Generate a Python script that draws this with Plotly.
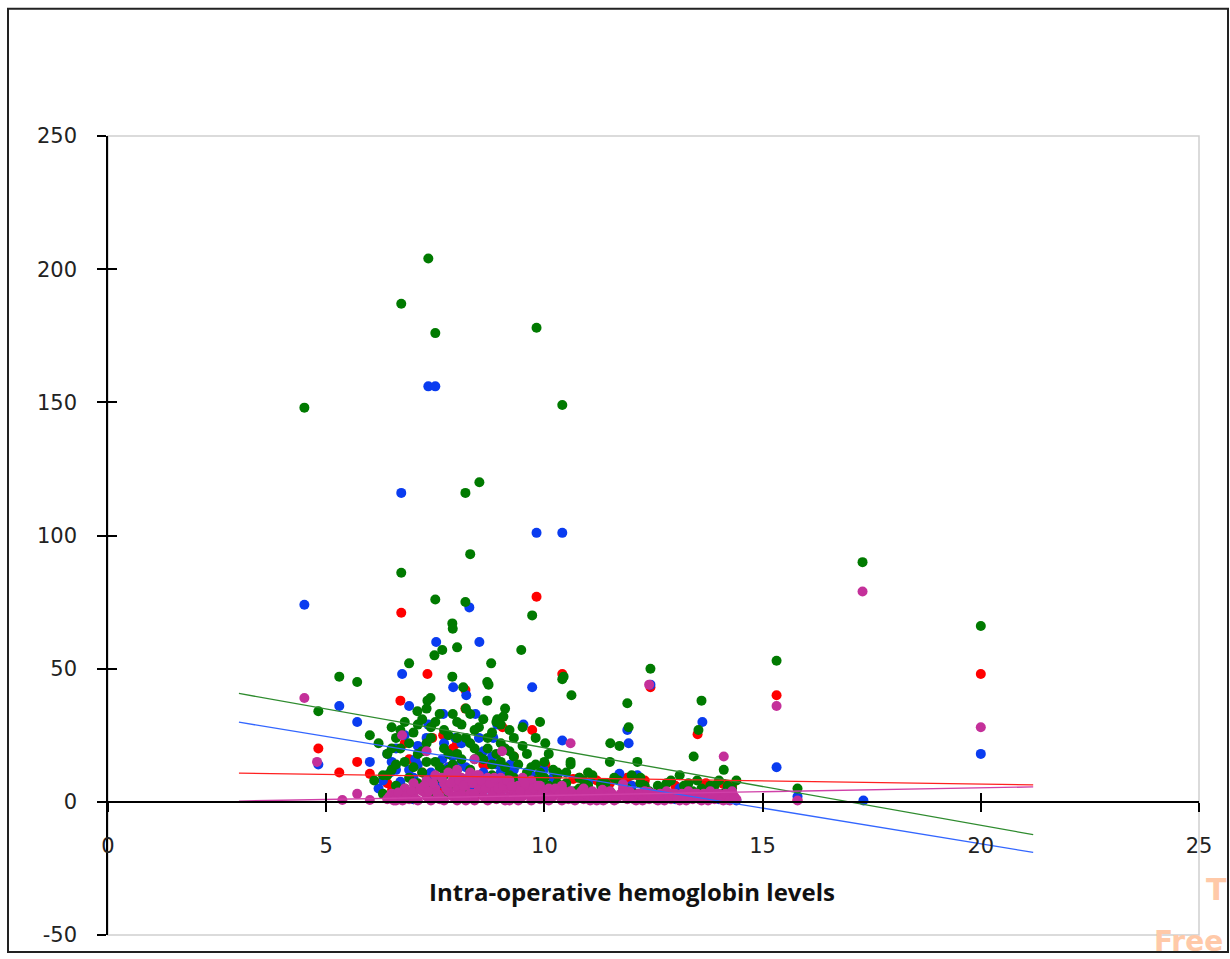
import plotly.graph_objects as go

# ---------------- data ----------------
green_x = [4.5, 7.34, 6.72, 7.5, 9.82, 10.41, 8.51, 8.19, 8.3, 6.72, 7.5, 8.19, 7.89, 7.9, 9.72,
           17.29, 20.0, 15.32, 12.43, 10.44, 10.41, 5.3, 5.71, 4.82, 13.6, 11.9, 7.48, 7.89, 8.72,
           8.78, 7.66, 9.47, 10.62, 6.9, 7.39, 13.53, 11.51, 11.72, 11.93, 15.8, 14.11, 13.42, 11.5,
           8.0, 8.14, 8.69, 8.69, 7.09, 9.1, 9.06, 8.92, 7.32, 10.02, 9.9, 12.13, 10.6,
           6.0, 6.1, 6.2, 6.3, 6.4, 6.5, 6.5, 6.6, 6.7, 6.8, 6.8, 6.9, 7.0, 7.0, 7.1, 7.2, 7.2, 7.3,
           7.4, 7.4, 7.5, 7.6, 7.6, 7.7, 7.8, 7.8, 7.9, 8.0, 8.0, 8.1, 8.2, 8.3, 8.3, 8.4, 8.5, 8.5,
           8.6, 8.7, 8.8, 8.9, 8.9, 9.0, 9.0, 9.1, 9.2, 9.3, 9.3, 9.4, 9.5, 9.6, 9.7, 9.8, 9.9, 10.0,
           10.1, 10.2, 10.3, 10.4, 10.5, 10.6, 10.7, 10.8, 10.9, 11.0, 11.1, 11.2, 11.4, 11.5, 11.7,
           11.9, 12.0, 12.1, 12.3, 12.5, 12.7, 12.9, 13.0, 13.2, 13.4, 13.5, 13.7, 13.9, 14.1, 14.3,
           14.4, 6.4, 6.6, 7.8, 8.4, 9.2, 9.6, 10.3, 10.9, 11.3, 12.2, 12.6, 13.1, 13.8,
           6.3, 6.5, 6.6, 6.7, 6.8, 6.9, 7.0, 7.1, 7.1, 7.2, 7.3, 7.3, 7.4, 7.5, 7.5, 7.6, 7.7,
           7.7, 7.8, 7.9, 7.9, 8.0, 8.0, 8.1, 8.1, 8.2, 8.2, 8.3, 8.4, 8.4, 8.5, 8.6, 8.6, 8.7,
           8.8, 8.8, 8.9, 9.0, 9.0, 9.1, 9.2, 9.3, 9.4, 9.5, 9.5, 9.6, 9.7, 9.8, 9.8, 9.9, 10.0,
           10.1, 10.2, 10.3, 10.5, 10.6, 10.8, 11.0, 11.3, 11.6, 12.2, 12.4, 12.8, 13.3, 13.6,
           14.0, 14.2]
green_y = [148, 204, 187, 176, 178, 149, 120, 116, 93, 86, 76, 75, 67, 65, 70,
           90, 66, 53, 50, 47, 46, 47, 45, 34, 38, 37, 55, 47, 44,
           52, 57, 57, 40, 52, 39, 27, 22, 21, 28, 5, 12, 17, 15,
           58, 43, 45, 38, 34, 35, 32, 31, 38, 22, 30, 15, 15,
           25, 8, 22, 3, 18, 12, 28, 6, 20, 30, 15, 9, 26, 4, 18, 31, 11, 22,
           6, 28, 15, 33, 9, 20, 25, 3, 14, 30, 18, 8, 24, 12, 33, 20, 28, 5,
           16, 24, 10, 30, 18, 6, 22, 13, 27, 9, 17, 4, 21, 11, 6, 14, 3, 9,
           18, 5, 10, 3, 7, 14, 4, 9, 2, 6, 10, 3, 7, 4, 8,
           5, 10, 3, 6, 2, 5, 8, 3, 6, 4, 8, 2, 6, 3, 5,
           8, 10, 24, 12, 16, 19, 7, 11, 8, 7, 9, 6, 10, 6,
           10, 20, 14, 27, 5, 22, 13, 29, 7, 19, 15, 35, 24, 2, 30, 13, 27,
           10, 18, 33, 6, 24, 12, 29, 16, 4, 35, 22, 9, 27, 17, 31, 8, 20,
           26, 14, 4, 29, 15, 20, 10, 24, 14, 6, 28, 18, 13, 24, 8, 11, 15,
           6, 12, 7, 11, 2, 5, 11, 6, 9, 7, 4, 7, 7, 5,
           8, 6]

blue_x = [7.34, 7.5, 6.72, 9.82, 10.41, 4.5, 8.28, 7.52, 8.51, 6.74, 7.91, 9.72, 8.21, 5.3, 5.71,
          15.32, 20.0, 17.31, 13.62, 11.93, 11.9, 10.41, 4.82, 6.9, 7.68, 8.42, 7.34, 8.92, 9.52,
          7.96, 8.83, 6.0, 6.5, 7.04, 7.66, 6.47, 7.32, 8.07, 9.22, 6.7, 9.98, 12.43, 11.72, 12.13,
          14.22, 11.28, 13.0, 15.8, 7.1, 7.8, 8.6, 9.0, 9.4, 10.0, 10.7, 11.5, 12.7, 13.4, 14.0,
          6.2, 6.9, 7.5, 8.1, 8.8, 9.6, 10.2, 10.9, 11.1, 12.3, 13.8, 14.4, 7.0, 8.4, 9.2, 6.6,
          6.3, 6.4, 6.6, 6.8, 6.8, 7.0, 7.1, 7.2, 7.3, 7.4, 7.6, 7.7, 7.8, 7.9, 8.0, 8.2, 8.3,
          8.5, 8.6, 8.7, 8.9, 9.1, 9.3, 9.5, 9.7, 9.9, 10.3, 10.6, 11.0, 11.4, 12.0, 12.6, 13.1,
          13.6, 14.2]
blue_y = [156, 156, 116, 101, 101, 74, 73, 60, 60, 48, 43, 43, 40, 36, 30,
          13, 18, 0.5, 30, 22, 27, 23, 14, 36, 33, 33, 29, 29, 29,
          24, 24, 15, 15, 16, 16, 11, 9, 14, 14, 7.5, 12, 44, 10.5, 10,
          0.7, 1, 1, 2, 21, 13, 19, 11, 8, 5, 3, 2, 1, 3, 1,
          5, 12, 8, 22, 17, 6, 9, 4, 2, 4, 2, 0.5, 1, 3, 2, 20,
          8, 18, 12, 25, 4, 9, 14, 6, 24, 11, 7, 22, 5, 17, 9, 13, 6,
          24, 11, 5, 14, 7, 12, 4, 10, 7, 6, 4, 7, 5, 6, 4, 5,
          3, 5]

red_x = [6.72, 9.82, 10.41, 7.32, 8.19, 12.43, 15.32, 20.0, 4.82, 6.7, 8.19, 9.72, 13.51, 5.3,
         5.71, 15.8, 9.04, 7.43, 7.68, 6.0, 6.51, 9.98, 9.15, 7.61, 8.69, 10.02, 11.9, 10.66,
         14.1, 7.0, 7.9, 8.5, 9.5, 10.3, 11.2, 12.0, 12.8, 13.3, 6.8, 8.9,
         6.4, 6.9, 7.2, 7.5, 7.8, 8.0, 8.3, 8.6, 9.0, 9.3, 9.6, 10.2, 10.8, 11.5, 12.3, 13.0,
         13.7, 14.3]
red_y = [71, 77, 48, 48, 42, 43, 40, 48, 20, 38, 35, 27, 25.4, 11,
         15, 0.7, 28, 24, 25, 10.5, 4.5, 14, 11.6, 4.5, 14, 14, 9, 8.6,
         6.7, 1, 20, 3, 6, 5, 8, 6, 2, 4, 22, 9,
         7, 16, 11, 7, 13, 22, 8, 14, 5, 17, 9, 7, 9, 7, 8, 6,
         7, 6]

magenta_x = [4.5, 17.29, 12.4, 15.32, 20.0, 4.79, 14.11, 10.6, 15.8, 6.74, 7.3, 8.4, 9.03, 9.5,
             5.71, 6.0, 5.37, 11.8, 11.33, 12.39,
             6.4, 6.5, 6.6, 6.7, 6.8, 6.9, 7.0, 7.0, 7.1, 7.2, 7.3, 7.3, 7.4, 7.5, 7.5, 7.6, 7.7,
             7.7, 7.8, 7.8, 7.9, 7.9, 8.0, 8.0, 8.0, 8.1, 8.1, 8.2, 8.2, 8.3, 8.3, 8.4, 8.4, 8.5,
             8.5, 8.6, 8.6, 8.7, 8.7, 8.8, 8.9, 8.9, 9.0, 9.0, 9.1, 9.1, 9.2, 9.2, 9.3, 9.4, 9.4,
             9.5, 9.6, 9.7, 9.7, 9.8, 9.9, 9.9, 10.0, 10.1, 10.1, 10.2, 10.3, 10.4, 10.4, 10.5,
             10.6, 10.7, 10.8, 10.9, 10.9, 11.0, 11.1, 11.2, 11.3, 11.4, 11.5, 11.6, 11.7, 11.8,
             11.9, 12.0, 12.1, 12.2, 12.3, 12.4, 12.5, 12.6, 12.7, 12.8, 12.9, 13.0, 13.1, 13.2,
             13.3, 13.4, 13.5, 13.6, 13.7, 13.8, 13.9, 14.0, 14.1, 14.2, 14.3, 14.4,
             6.45, 6.55, 6.65, 6.75, 6.85, 6.95, 7.05, 7.15, 7.25, 7.35, 7.45, 7.55, 7.65, 7.75,
             7.85, 7.95, 8.05, 8.15, 8.25, 8.35, 8.45, 8.55, 8.65, 8.75, 8.85, 8.95, 9.05, 9.15,
             9.25, 9.35, 9.45, 9.55, 9.65, 9.75, 9.85, 9.95, 10.05, 10.15, 10.25, 10.35, 10.45,
             10.55, 10.65, 10.75, 10.85, 10.95, 11.05, 11.15, 11.25, 11.35, 11.45, 11.55, 11.65,
             11.75, 11.85, 11.95, 12.05, 12.15, 12.25, 12.35, 12.45, 12.55, 12.65, 12.75, 12.85,
             12.95, 13.05, 13.15, 13.25, 13.35, 13.45, 13.55, 13.65, 13.75, 13.85, 13.95, 14.05,
             14.15, 14.25, 14.35, 7.6, 8.0, 8.4, 8.8, 9.2]
magenta_y = [39, 79, 44, 36, 28, 15, 17, 22, 0.5, 25, 19, 16, 19, 9,
             3, 0.7, 0.7, 6.7, 4.5, 3.7,
             1, 3, 0.5, 2, 5, 1, 3, 7, 0.5, 4, 2, 8, 0.5, 5, 10, 2, 7,
             0.5, 4, 11, 2, 8, 0.5, 5, 12, 3, 9, 0.5, 6, 11, 3, 8, 0.5, 5,
             10, 2, 7, 0.5, 9, 4, 1, 7, 3, 9, 0.5, 5, 2, 8, 4, 0.5, 6,
             2, 5, 0.5, 8, 3, 1, 6, 3, 0.5, 5, 2, 4, 0.5, 6, 2,
             4, 0.5, 3, 1, 5, 2, 4, 0.5, 3, 1, 4, 0.5, 2, 5,
             1, 3, 0.5, 2, 4, 1, 3, 0.5, 2, 4, 1, 3, 0.5, 2,
             4, 1, 3, 0.5, 2, 4, 1, 3, 0.5, 2, 4, 1,
             2, 0.5, 3.5, 0.5, 2.5, 4, 1, 5, 6, 4, 7, 3, 9, 5,
             7, 10, 8, 6, 9, 7, 10, 8, 5, 7, 9, 5, 6, 8,
             6, 2, 4, 7, 3, 5, 6, 3, 4, 2, 5, 3, 4,
             1, 3, 2, 4, 3, 0.5, 2, 3, 0.5, 2, 3, 1,
             3, 2, 4, 1, 3, 0.5, 3, 2, 1, 3, 0.5, 2,
             3, 1, 3, 0.5, 2, 3, 1, 3, 0.5, 2, 3, 1,
             3, 0.5, 2, 1, 2, 3, 2, 0.5]

# linear trendlines (end points)
trend_x = [3.0, 21.2]
green_trend = [40.7, -12.3]
blue_trend = [29.9, -19.0]
red_trend = [10.8, 6.4]
magenta_trend = [0.3, 5.6]

x_ticks = [0, 5, 10, 15, 20, 25]
y_ticks = [-50, 0, 50, 100, 150, 200, 250]
y_tick_text = ["-50", "0", "50", "100", "150", "200", "250"]
x_title = "Intra-operative hemoglobin levels"

# ---------------- figure ----------------
GREEN = "#007A00"
BLUE = "#0A3CF0"
RED = "#FF0000"
MAGENTA = "#C4309A"

fig = go.Figure()

def pts(x, y, c):
    fig.add_trace(go.Scatter(x=x, y=y, mode="markers",
                             marker=dict(color=c, size=10, line=dict(width=0)),
                             showlegend=False, hoverinfo="x+y"))

pts(red_x, red_y, RED)
pts(blue_x, blue_y, BLUE)
pts(green_x, green_y, GREEN)
pts(magenta_x, magenta_y, MAGENTA)

for ty, c in [(green_trend, "#2E8B2E"), (blue_trend, "#3366FF"),
              (red_trend, "#FF2020"), (magenta_trend, "#D040A8")]:
    fig.add_trace(go.Scatter(x=trend_x, y=ty, mode="lines",
                             line=dict(color=c, width=1.3), showlegend=False,
                             hoverinfo="skip"))

W, H = 1230, 959
L, R, T, B = 108, 1199, 136, 939
y_zero_frac = (0 - (-50)) / 300.0

tickfont = dict(family="DejaVu Sans", size=21, color="#222222")

fig.update_layout(
    width=W, height=H,
    margin=dict(l=L, r=W - R, t=T, b=H - B),
    paper_bgcolor="white", plot_bgcolor="white",
    xaxis=dict(range=[0, 25], tickvals=x_ticks, anchor="free", position=y_zero_frac,
               showline=True, linecolor="black", linewidth=1.5,
               ticks="outside", ticklen=9, tickwidth=1.5, tickcolor="black",
               showgrid=False, zeroline=False, tickfont=tickfont,
               ticklabelstandoff=16),
    xaxis2=dict(range=[0, 25], tickvals=x_ticks, overlaying="x", anchor="free",
                position=y_zero_frac, showline=False, ticks="inside", ticklen=9,
                tickwidth=1.5, tickcolor="black", showticklabels=False,
                showgrid=False, zeroline=False),
    yaxis=dict(range=[-50, 250], tickvals=y_ticks, ticktext=y_tick_text, anchor="x",
               showline=True, linecolor="black", linewidth=1.5,
               ticks="outside", ticklen=9, tickwidth=1.5, tickcolor="black",
               showgrid=False, zeroline=False, tickfont=tickfont,
               ticklabelstandoff=16),
    yaxis2=dict(range=[-50, 250], tickvals=y_ticks, overlaying="y", anchor="x",
                showline=False, ticks="inside", ticklen=9, tickwidth=1.5,
                tickcolor="black", showticklabels=False, showgrid=False, zeroline=False),
)

# invisible helper trace so the overlay axes render
fig.add_trace(go.Scatter(x=[None], y=[None], xaxis="x2", yaxis="y2",
                         showlegend=False, hoverinfo="skip"))

pw, ph = R - L, B - T
def px(xp):
    return (xp - L) / pw
def py(yp):
    return (B - yp) / ph

# plot-area border (light gray)
fig.add_shape(type="rect", xref="paper", yref="paper", x0=0, x1=1, y0=0, y1=1,
              line=dict(color="#D0D0D0", width=1.5), layer="below")
# outer chart border
fig.add_shape(type="rect", xref="paper", yref="paper",
              x0=px(8), x1=px(1228), y0=py(956), y1=py(8),
              line=dict(color="#222222", width=2))

fig.add_annotation(text="<b>" + x_title + "</b>", xref="paper", yref="paper",
                   x=px(632), y=py(895), xanchor="center", yanchor="middle", showarrow=False,
                   font=dict(family="Open Sans", size=24, color="#111111"))

# watermark fragment at the right edge
fig.add_annotation(text="<b>T</b>", xref="paper", yref="paper", x=px(1216), y=py(893),
                   xanchor="center", yanchor="middle",
                   showarrow=False, font=dict(family="DejaVu Sans", size=30, color="#FFC9A8"))
fig.add_annotation(text="<b>Free</b>", xref="paper", yref="paper", x=px(1188), y=py(946),
                   xanchor="center", yanchor="middle",
                   showarrow=False, font=dict(family="DejaVu Sans", size=28, color="#FFC9A8"))

fig.write_html("out.html")
